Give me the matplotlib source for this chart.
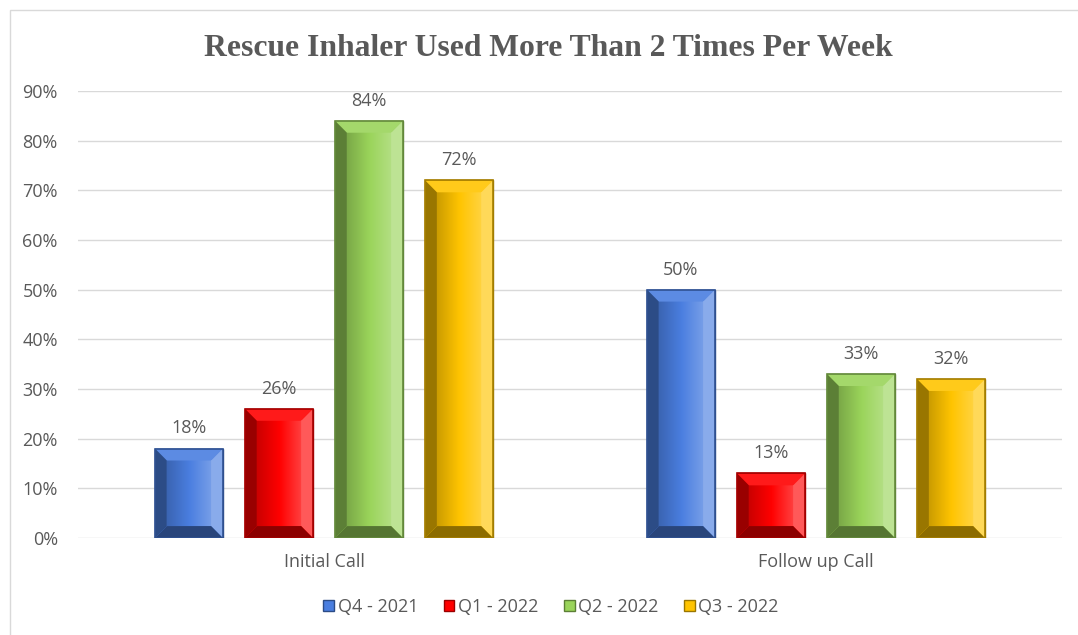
import matplotlib.pyplot as plt
import numpy as np
from matplotlib.colors import to_rgb, LinearSegmentedColormap
from matplotlib.patches import Polygon, Rectangle, Patch

categories = ["Initial Call", "Follow up Call"]
series = ["Q4 - 2021", "Q1 - 2022", "Q2 - 2022", "Q3 - 2022"]
values = [
    [0.18, 0.50],
    [0.26, 0.13],
    [0.84, 0.33],
    [0.72, 0.32],
]
colors = ["#4a7ee0", "#ff0000", "#9ad45a", "#ffc400"]
y_ticks = [0, 0.1, 0.2, 0.3, 0.4, 0.5, 0.6, 0.7, 0.8, 0.9]

TEXT = "#595959"
GRID = "#d9d9d9"
plt.rcParams["font.family"] = ["Open Sans", "DejaVu Sans"]


def shade(c, f):
    r, g, b = to_rgb(c)
    if f < 1:
        return (r * f, g * f, b * f)
    f = f - 1
    return (r + (1 - r) * f, g + (1 - g) * f, b + (1 - b) * f)


fig = plt.figure(figsize=(10.78, 6.35), dpi=100)
fig.patches.append(Rectangle((10 / 1078, -0.01), 1.02, 1 - 10 / 635 + 0.01,
                             transform=fig.transFigure, fill=False,
                             edgecolor="#d9d9d9", lw=1))
ax = fig.add_axes([78 / 1078, 1 - 538 / 635, (1062 - 78) / 1078, (538 - 91) / 635])

step = 0.183
width = 0.138
dx = 0.024
x = np.arange(len(categories))

for i, (name, vals, col) in enumerate(zip(series, values, colors)):
    pos = x + (i - 1.5) * step
    bars = ax.bar(pos, vals, width, color=col, edgecolor=shade(col, 0.6),
                  linewidth=1, zorder=2)
    for b, v in zip(bars, vals):
        x0 = b.get_x()
        x1 = x0 + b.get_width()
        h = b.get_height()
        dy = min(0.024, h / 2)
        # center gradient
        cmap = LinearSegmentedColormap.from_list("g", [shade(col, 0.8), col, shade(col, 1.25)])
        grad = np.linspace(0, 1, 64).reshape(1, -1)
        ax.imshow(grad, cmap=cmap, aspect="auto", extent=(x0 + dx, x1 - dx, dy, h - dy),
                  zorder=3, interpolation="bilinear")
        faces = [
            ([(x0, h), (x1, h), (x1 - dx, h - dy), (x0 + dx, h - dy)], shade(col, 1.1)),
            ([(x0, 0), (x0, h), (x0 + dx, h - dy), (x0 + dx, dy)], shade(col, 0.6)),
            ([(x1, 0), (x1, h), (x1 - dx, h - dy), (x1 - dx, dy)], shade(col, 1.35)),
            ([(x0, 0), (x1, 0), (x1 - dx, dy), (x0 + dx, dy)], shade(col, 0.55)),
        ]
        for pts, fc in faces:
            ax.add_patch(Polygon(pts, closed=True, facecolor=fc, edgecolor="none", zorder=3))
        ax.add_patch(Rectangle((x0, 0), x1 - x0, h, fill=False,
                               edgecolor=shade(col, 0.65), lw=1.2, zorder=4))
        ax.annotate(f"{round(v * 100)}%", (b.get_x() + b.get_width() / 2, h),
                    xytext=(0, 8), textcoords="offset points", ha="center",
                    va="bottom", fontsize=13, color=TEXT)

ax.set_xlim(-0.5, 1.5)
ax.set_ylim(0, 0.9)
ax.set_yticks(y_ticks)
ax.set_yticklabels([f"{int(round(t * 100))}%" for t in y_ticks])
ax.set_xticks(x)
ax.set_xticklabels(categories)
ax.tick_params(axis="both", length=0, labelsize=13, labelcolor=TEXT)
ax.tick_params(axis="y", pad=14.5)
ax.tick_params(axis="x", pad=11)
ax.grid(axis="y", color=GRID, lw=1, zorder=0)
ax.set_axisbelow(True)
for s in ax.spines.values():
    s.set_visible(False)

handles = [Patch(facecolor=c, edgecolor=shade(c, 0.6), label=n) for c, n in zip(colors, series)]
fig.legend(handles=handles, loc="center", bbox_to_anchor=(551 / 1078, 1 - 607 / 635), ncol=4,
           frameon=False, fontsize=13, labelcolor=TEXT, handlelength=0.6,
           handleheight=0.6, handletextpad=0.2, columnspacing=1.4)

fig.text(548 / 1078, 1 - 48 / 635, "Rescue Inhaler Used More Than 2 Times Per Week",
         ha="center", va="center", fontsize=22.8, fontweight="bold", color=TEXT,
         family="Liberation Serif")

fig.savefig("out.png", dpi=100)
